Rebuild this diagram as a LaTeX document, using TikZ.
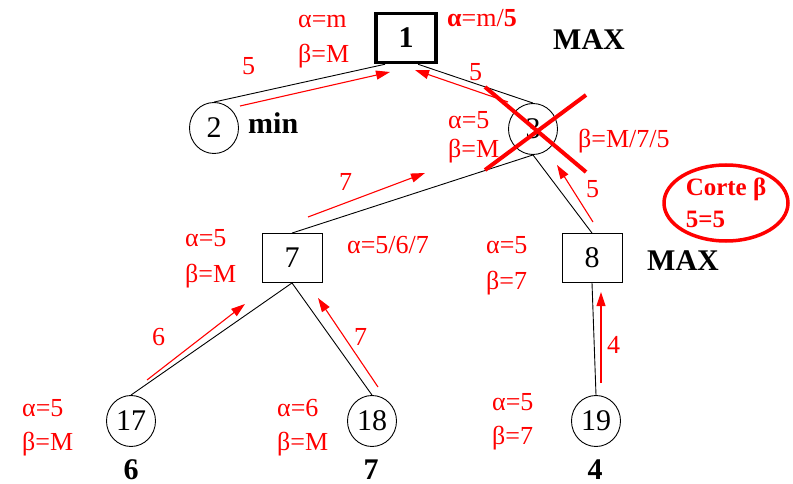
\documentclass[tikz,border=0pt]{standalone}
\usepackage{fontspec}
\setmainfont{Liberation Serif}
\usetikzlibrary{arrows.meta,shapes.geometric}

\tikzset{
  maxbox/.style={draw, line width=0.9pt, minimum width=60pt, minimum height=49pt, inner sep=0pt, font=\fontsize{30}{32}\selectfont},
  minnode/.style={draw, ellipse, line width=0.9pt, minimum width=49pt, minimum height=51pt, inner sep=0pt, font=\fontsize{30}{32}\selectfont},
  arista/.style={line width=0.9pt},
  valeur/.style={red, line width=1.1pt, -{Triangle[length=14pt,width=9pt]}},
  etiq/.style={red, anchor=base west, inner sep=0pt, font=\fontsize{26}{28}\selectfont},
  typ/.style={anchor=base west, inner sep=0pt, font=\fontsize{30}{32}\selectfont\bfseries},
  croix/.style={red, line width=4pt},
}

\begin{document}
\begin{tikzpicture}[x=1pt,y=-1pt]
        \useasboundingbox (0,0) rectangle (793,484);

        % Les noeuds de l'arbre
        \node[maxbox, line width=3.5pt, font=\fontsize{30}{32}\selectfont\bfseries] (n1) at (406,38) {1};
        \node[minnode] (n2) at (214,128) {2};
        \node[minnode] (n3) at (533,129) {3};
        \node[maxbox] (n7) at (292,258) {7};
        \node[maxbox] (n8) at (592,258) {8};
        \node[minnode] (n17) at (131,421) {17};
        \node[minnode] (n18) at (372,421) {18};
        \node[minnode] (n19) at (596,421) {19};

        % Les aretes
        \draw[arista] (n2.north) -- ([xshift=-21pt]n1.south);
        \draw[arista] (n3.north) -- ([xshift=12pt]n1.south);
        \draw[arista] (n3.south) -- (n7.north);
        \draw[arista] (n3.south) -- (n8.north);
        \draw[arista] (n17.north) -- (n7.south);
        \draw[arista] (n18.north) -- (n7.south);
        \draw[arista] (n19.north) -- (n8.south);

        % Remontee des valeurs (fleches rouges)
        \coordinate (v2a) at (240,106); \coordinate (v2b) at (390,72);
        \coordinate (v3a) at (508,102); \coordinate (v3b) at (415,70);
        \coordinate (v7a) at (308,217); \coordinate (v7b) at (425,173);
        \coordinate (v8a) at (593,222); \coordinate (v8b) at (557,165);
        \coordinate (v17a) at (147,380); \coordinate (v17b) at (245,304);
        \coordinate (v18a) at (378,387); \coordinate (v18b) at (318,298);
        \coordinate (v19a) at (601,383); \coordinate (v19b) at (601,292);
        \draw[valeur] (v2a) -- (v2b);
        \draw[valeur] (v3a) -- (v3b);
        \draw[valeur] (v7a) -- (v7b);
        \draw[valeur] (v8a) -- (v8b);
        \draw[valeur] (v17a) -- (v17b);
        \draw[valeur] (v18a) -- (v18b);
        \draw[valeur] (v19a) -- (v19b);
        \node[etiq] (e21) at (242,75) {5};
        \node[etiq] (e31) at (469,81) {5};
        \node[etiq] (e73) at (339,190) {7};
        \node[etiq] (e83) at (586,197) {5};
        \node[etiq] (e177) at (152,345) {6};
        \node[etiq] (e187) at (354,345) {7};
        \node[etiq] (e198) at (607,353) {4};

        % Noeud 3 elague
        \draw[croix] ([shift={(-48,-42)}]n3.center) -- ([shift={(53,43)}]n3.center);
        \draw[croix] ([shift={(-48,41)}]n3.center) -- ([shift={(53,-34)}]n3.center);

        % Alpha et beta
        \node[etiq] (a1) at (298,28) {α=m};
        \node[etiq] (b1) at (298,63) {β=M};
        \node[etiq] (a1f) at (447,27) {{\bfseries α}=m/{\bfseries 5}};
        \node[etiq] (a3) at (448,129) {α=5};
        \node[etiq] (b3) at (448,158) {β=M};
        \node[etiq] (b3f) at (578,148) {β=M/7/5};
        \node[etiq] (a7) at (185,246) {α=5};
        \node[etiq] (b7) at (185,282) {β=M};
        \node[etiq] (a7f) at (347,253) {α=5/6/7};
        \node[etiq] (a8) at (486,253) {α=5};
        \node[etiq] (b8) at (486,289) {β=7};
        \node[etiq] (a17) at (22,416) {α=5};
        \node[etiq] (b17) at (22,450) {β=M};
        \node[etiq] (a18) at (277,416) {α=6};
        \node[etiq] (b18) at (277,450) {β=M};
        \node[etiq] (a19) at (492,410) {α=5};
        \node[etiq] (b19) at (492,444) {β=7};

        % MAX / min et valeurs des feuilles
        \node[typ] (t1) at (553,50) {MAX};
        \node[typ] (t2) at (248,134) {min};
        \node[typ] (t8) at (647,270) {MAX};
        \node[typ, anchor=base] (f17) at (131,479) {6};
        \node[typ, anchor=base] (f18) at (371,479) {7};
        \node[typ, anchor=base] (f19) at (595,479) {4};

        % La coupure
        \node[draw=red, ellipse, line width=3.5pt, minimum width=124pt, minimum height=76pt, text=red,
              font=\fontsize{25}{32}\selectfont\bfseries, align=left, inner sep=0pt] (corte) at (726,203) {Corte β\\5=5};
    \end{tikzpicture}
\end{document}
